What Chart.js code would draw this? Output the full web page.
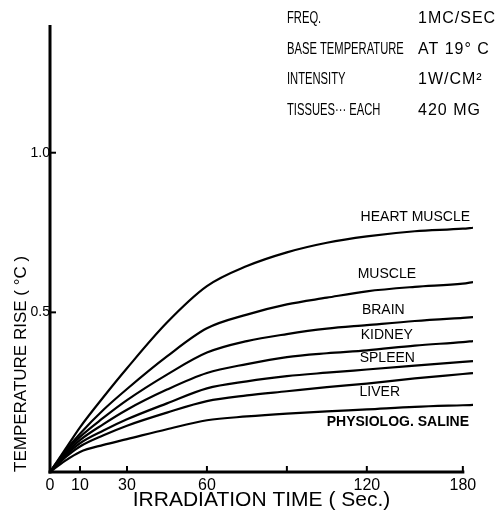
<!DOCTYPE html>
<html>
<head>
<meta charset="utf-8">
<script src="https://cdn.jsdelivr.net/npm/chart.js@4/dist/chart.umd.min.js"></script>
<style>
  html, body { margin: 0; padding: 0; background: #fff; }
  #wrap { width: 499px; height: 513px; }
</style>
</head>
<body>
<div id="wrap"><canvas id="c" width="499" height="513"></canvas></div>
<script>
// Irradiation time (s) and temperature rise (°C) of each tissue
const times        = [0, 5, 10, 20, 30, 45, 60, 75, 90, 105, 120, 150, 180, 186];
const heartMuscle  = [0, 0.070, 0.140, 0.235, 0.325, 0.468, 0.582, 0.645, 0.688, 0.718, 0.738, 0.754, 0.762, 0.765];
const muscle       = [0, 0.065, 0.120, 0.195, 0.260, 0.362, 0.450, 0.493, 0.525, 0.546, 0.566, 0.580, 0.590, 0.595];
const brain        = [0, 0.060, 0.110, 0.170, 0.225, 0.305, 0.374, 0.410, 0.432, 0.449, 0.460, 0.473, 0.483, 0.485];
const kidney       = [0, 0.055, 0.100, 0.150, 0.195, 0.258, 0.310, 0.338, 0.360, 0.372, 0.381, 0.396, 0.407, 0.410];
const spleen       = [0, 0.050, 0.090, 0.130, 0.165, 0.215, 0.262, 0.284, 0.300, 0.311, 0.321, 0.333, 0.345, 0.347];
const liver        = [0, 0.045, 0.080, 0.115, 0.145, 0.186, 0.222, 0.240, 0.253, 0.266, 0.277, 0.293, 0.307, 0.310];
const saline       = [0, 0.035, 0.063, 0.085, 0.103, 0.134, 0.162, 0.174, 0.183, 0.190, 0.196, 0.204, 0.209, 0.210];

const seriesNames  = ['HEART MUSCLE', 'MUSCLE', 'BRAIN', 'KIDNEY', 'SPLEEN', 'LIVER', 'PHYSIOLOG. SALINE'];
const seriesValues = [heartMuscle, muscle, brain, kidney, spleen, liver, saline];

// Axis ticks
const xTicks      = [0, 10, 30, 60, 90, 120, 180];
const xTickLabels = ['0', '10', '30', '60', '', '120', '180'];
const yTicks      = [0.5, 1.0];
const yTickLabels = ['0.5', '1.0'];

// Curve names, anchored in data coordinates (seconds, °C)
const labelTimes  = [150.3, 132.5, 130.3, 132.5, 132.8, 128.1, 139.4];
const labelRises  = [0.798, 0.620, 0.506, 0.428, 0.358, 0.250, 0.155];

// Experiment conditions
const conditionKeys   = ['FREQ.', 'BASE TEMPERATURE', 'INTENSITY', 'TISSUES··· EACH'];
const conditionValues = ['1MC/SEC', 'AT 19° C', '1W/CM²', '420 MG'];

const FONT = '"Liberation Sans", Arial, sans-serif';

// The time axis is drawn hand-spaced: even up to 120 s, compressed after it.
const timeStops = [0, 10, 30, 60, 90, 120, 180, 186];
const timeFracs = [0, 0.0709, 0.182, 0.371, 0.560, 0.749, 0.976, 1];

function piecewise(v, from, to) {
  if (v <= from[0]) return to[0];
  for (let i = 1; i < from.length; i++) {
    if (v <= from[i]) {
      const t = (v - from[i - 1]) / (from[i] - from[i - 1]);
      return to[i - 1] + t * (to[i] - to[i - 1]);
    }
  }
  const n = from.length - 1;
  return to[n] + (v - from[n]) * (to[n] - to[n - 1]) / (from[n] - from[n - 1]);
}

class SegmentedScale extends Chart.LinearScale {
  getPixelForValue(value) {
    if (value === null || value === undefined || isNaN(value)) return NaN;
    return this.getPixelForDecimal(piecewise(value, timeStops, timeFracs));
  }
  getValueForPixel(pixel) {
    return piecewise(this.getDecimalForPixel(pixel), timeFracs, timeStops);
  }
}
SegmentedScale.id = 'segmented';
SegmentedScale.defaults = Chart.LinearScale.defaults;
Chart.register(SegmentedScale);

const frame = {
  id: 'frame',
  afterDatasetsDraw(chart) {
    const { ctx, chartArea: { left, top, bottom }, scales: { x, y } } = chart;
    ctx.save();
    ctx.strokeStyle = '#000';
    ctx.lineCap = 'butt';
    ctx.lineWidth = 3;
    ctx.beginPath();
    ctx.moveTo(left, top);
    ctx.lineTo(left, bottom + 1.5);
    ctx.stroke();
    ctx.beginPath();
    ctx.moveTo(left - 1.5, bottom);
    ctx.lineTo(x.getPixelForValue(180) + 1.5, bottom);
    ctx.stroke();
    ctx.lineWidth = 2;
    xTicks.forEach(v => {
      if (v === 0) return;
      const px = x.getPixelForValue(v);
      ctx.beginPath();
      ctx.moveTo(px, bottom);
      ctx.lineTo(px, bottom - 6);
      ctx.stroke();
    });
    yTicks.forEach(v => {
      const py = y.getPixelForValue(v);
      ctx.beginPath();
      ctx.moveTo(left, py);
      ctx.lineTo(left + 6, py);
      ctx.stroke();
    });
    ctx.restore();
  }
};

const curveNames = {
  id: 'curveNames',
  afterDatasetsDraw(chart) {
    const { ctx, scales: { x, y } } = chart;
    ctx.save();
    ctx.fillStyle = '#000';
    ctx.textAlign = 'center';
    ctx.textBaseline = 'middle';
    seriesNames.forEach((name, i) => {
      ctx.font = (i === seriesNames.length - 1 ? 'bold 14px ' : '14px ') + FONT;
      ctx.fillText(name, x.getPixelForValue(labelTimes[i]), y.getPixelForValue(labelRises[i]));
    });
    ctx.restore();
  }
};

const conditions = {
  id: 'conditions',
  afterDraw(chart) {
    const { ctx } = chart;
    ctx.save();
    ctx.fillStyle = '#000';
    ctx.textAlign = 'left';
    ctx.textBaseline = 'middle';
    conditionKeys.forEach((k, i) => {
      const yy = 19 + i * 30.5;
      ctx.save();
      ctx.font = '16px ' + FONT;
      ctx.translate(287, yy);
      ctx.scale(0.7, 1);
      ctx.fillText(k, 0, 0);
      ctx.restore();
      ctx.save();
      ctx.font = '16px ' + FONT;
      ctx.letterSpacing = '1px';
      ctx.fillText(conditionValues[i], 418, yy);
      ctx.restore();
    });
    ctx.restore();
  }
};

new Chart(document.getElementById('c'), {
  type: 'line',
  data: {
    datasets: seriesNames.map((name, i) => ({
      label: name,
      data: times.map((t, j) => ({ x: t, y: seriesValues[i][j] })),
      borderColor: '#000',
      borderWidth: 2.2,
      pointRadius: 0,
      fill: false,
      cubicInterpolationMode: 'monotone'
    }))
  },
  options: {
    responsive: false,
    animation: false,
    devicePixelRatio: 1,
    layout: { padding: { top: 25, right: 26, left: 0, bottom: 0 } },
    plugins: { legend: { display: false }, tooltip: { enabled: false } },
    scales: {
      x: {
        type: 'segmented',
        position: 'bottom',
        min: 0,
        max: 186,
        grid: { display: false, drawTicks: false },
        border: { display: false },
        afterBuildTicks: s => { s.ticks = xTicks.map(v => ({ value: v })); },
        afterFit: s => { s.height = 41; },
        ticks: {
          autoSkip: false,
          maxRotation: 0,
          padding: 4,
          color: '#000',
          font: { family: FONT, size: 16 },
          callback: (v, i) => xTickLabels[i]
        },
        title: {
          display: true,
          text: 'IRRADIATION TIME ( Sec.)',
          color: '#000',
          font: { family: FONT, size: 21 },
          padding: { top: 0, bottom: 0 }
        }
      },
      y: {
        type: 'linear',
        min: 0,
        max: 1.4,
        grid: { display: false, drawTicks: false },
        border: { display: false },
        afterBuildTicks: s => { s.ticks = yTicks.map(v => ({ value: v })); },
        afterFit: s => { s.width = 50; },
        ticks: {
          padding: 0,
          color: '#000',
          font: { family: FONT, size: 14 },
          callback: (v, i) => yTickLabels[i]
        },
        title: {
          display: true,
          text: 'TEMPERATURE RISE ( °C )',
          align: 'start',
          color: '#000',
          font: { family: FONT, size: 17 },
          padding: { top: 11, bottom: 0 }
        }
      }
    }
  },
  plugins: [frame, curveNames, conditions]
});
</script>
</body>
</html>
